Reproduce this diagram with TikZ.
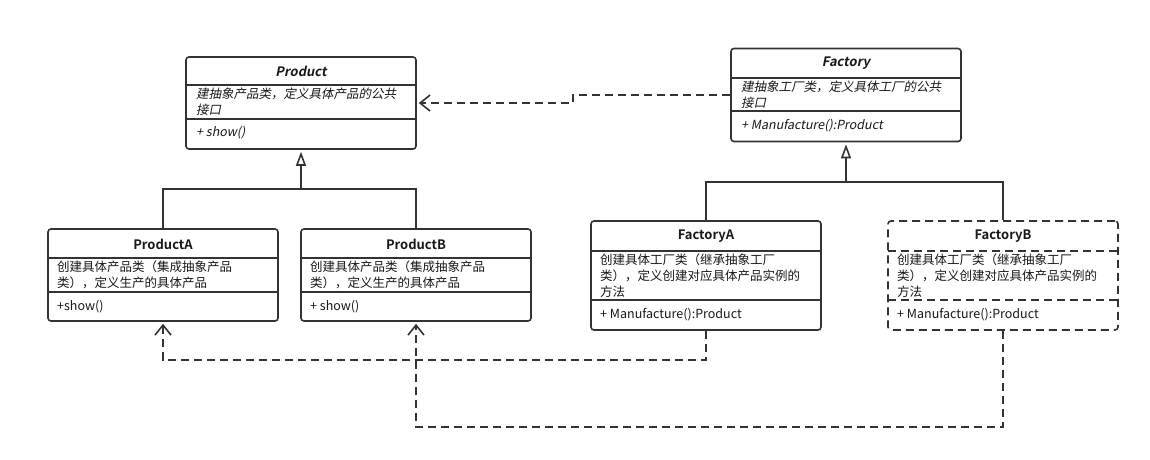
\documentclass[tikz,border=0pt]{standalone}
\usepackage{fontspec}
\setmainfont{Noto Sans CJK SC}[ItalicFont={Noto Sans CJK SC}, ItalicFeatures={FakeSlant=0.2}, BoldFont={Noto Sans CJK SC Bold}, BoldItalicFont={Noto Sans CJK SC Bold}, BoldItalicFeatures={FakeSlant=0.2}]
\usetikzlibrary{arrows.meta}
\tikzset{
 ln/.style={draw=black!80, line width=1.6pt},
 cls/.style={ln, rounded corners=3pt, inner sep=0pt, fill=white},
 dsh/.style={dash pattern=on 8pt off 5pt},
 txt/.style={inner sep=0pt, anchor=west, align=left, font=\fontsize{12.5}{16}\selectfont, text=black!90},
 ttl/.style={inner sep=0pt, font=\bfseries\fontsize{13}{16}\selectfont, text=black!90},
 inh/.style={ln, -{Triangle[fill=white, length=14pt, width=10pt]}, shorten >=2pt},
 dep/.style={ln, dsh, -{Straight Barb[length=10pt, width=16pt]}, shorten >=2pt},
}
\begin{document}
\begin{tikzpicture}[x=1pt, y=-1pt]
\fill[white] (0,0) rectangle (1150,459);
\useasboundingbox (0,0) rectangle (1150,459);

% Product
\node[cls, minimum width=230pt, minimum height=92pt] (product) at (301,103) {};
\draw[ln] (186,85) -- (416,85);
\draw[ln] (186,119) -- (416,119);
\node[ttl] (productT) at (301,71) {\itshape Product};
\node[txt] (productD) at (196,102) {\itshape 建抽象产品类，定义具体产品的公共\\\itshape 接口};
\node[txt] (productM) at (196,133) {\itshape + show()};

% Factory
\node[cls, minimum width=230pt, minimum height=93pt] (factory) at (846,95) {};
\draw[ln] (731,78) -- (961,78);
\draw[ln] (731,111) -- (961,111);
\node[ttl] (factoryT) at (846,63) {\itshape Factory};
\node[txt] (factoryD) at (741,95) {\itshape 建抽象工厂类，定义具体工厂的公共\\\itshape 接口};
\node[txt] (factoryM) at (741,126) {\itshape + Manufacture():Product};

% ProductA
\node[cls, minimum width=230pt, minimum height=92pt] (pa) at (163,275) {};
\draw[ln] (48,258) -- (278,258);
\draw[ln] (48,292) -- (278,292);
\node[ttl] (paT) at (163,244) {ProductA};
\node[txt] (paD) at (57,275) {创建具体产品类（集成抽象产品\\类），定义生产的具体产品};
\node[txt] (paM) at (57,306.5) {+show()};

% ProductB
\node[cls, minimum width=230pt, minimum height=92pt] (pb) at (416,275) {};
\draw[ln] (301,258) -- (531,258);
\draw[ln] (301,292) -- (531,292);
\node[ttl] (pbT) at (416,244) {ProductB};
\node[txt] (pbD) at (310,275) {创建具体产品类（集成抽象产品\\类），定义生产的具体产品};
\node[txt] (pbM) at (310,306.5) {+ show()};

% FactoryA
\node[cls, minimum width=230pt, minimum height=109pt] (fa) at (706,275.5) {};
\draw[ln] (591,251) -- (821,251);
\draw[ln] (591,300) -- (821,300);
\node[ttl] (faT) at (706,236) {FactoryA};
\node[txt] (faD) at (600,275.5) {创建具体工厂类（继承抽象工厂\\类），定义创建对应具体产品实例的\\方法};
\node[txt] (faM) at (600,315) {+ Manufacture():Product};

% FactoryB
\node[cls, dsh, minimum width=230pt, minimum height=109pt] (fb) at (1003,275.5) {};
\draw[ln, dsh] (888,251) -- (1118,251);
\draw[ln, dsh] (888,300) -- (1118,300);
\node[ttl] (fbT) at (1003,236) {FactoryB};
\node[txt] (fbD) at (897,275.5) {创建具体工厂类（继承抽象工厂\\类），定义创建对应具体产品实例的\\方法};
\node[txt] (fbM) at (897,315) {+ Manufacture():Product};

% inheritance
\coordinate (pj) at (301,189);
\draw[ln] (pa.north) |- (pj) -| (pb.north);
\draw[inh] (pj) -- (product.south);
\coordinate (fj) at (846,182);
\draw[ln] (fa.north) |- (fj) -| (fb.north);
\draw[inh] (fj) -- (factory.south);

% dependencies
\coordinate (d1) at (573,95);
\coordinate (d2) at (573,103);
\draw[dep] (factory.west) -- (d1) -- (d2) -- (product.east);
\coordinate (a1) at (706,360);
\coordinate (a2) at (163,360);
\draw[dep] (fa.south) -- (a1) -- (a2) -- (pa.south);
\coordinate (b1) at (1003,427);
\coordinate (b2) at (416,427);
\draw[dep] (fb.south) -- (b1) -- (b2) -- (pb.south);
\end{tikzpicture}
\end{document}
